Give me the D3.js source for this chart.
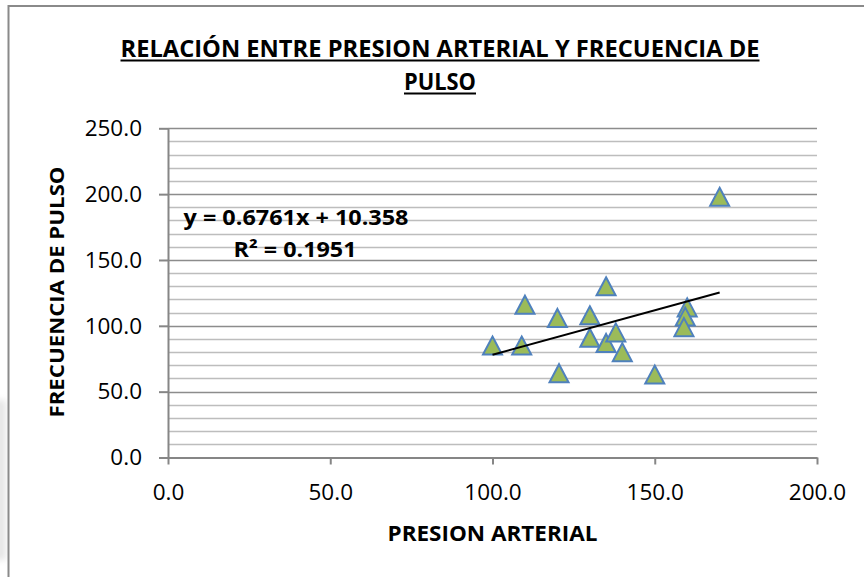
<!DOCTYPE html>
<html>
<head>
<meta charset="utf-8">
<script src="https://cdn.jsdelivr.net/npm/d3@7/dist/d3.min.js"></script>
<style>
  html, body { margin: 0; padding: 0; background: #fff; }
  svg { display: block; }
  text { font-family: "Open Sans", "Noto Sans", sans-serif; fill: #000; }
</style>
</head>
<body>
<svg id="chart" width="864" height="577"></svg>
<script>
// ---- data ----
const presionArterial = [170, 100, 110, 109, 120, 120.5, 130, 130, 135, 135, 138, 140, 150, 160, 159.4, 159];
const frecuenciaPulso = [198, 85, 116, 85, 106, 64, 108, 91, 130, 87, 95, 80, 63, 114, 107, 99];
const trendSlope = 0.6761;
const trendIntercept = 10.358;
const xTicks = [0, 50, 100, 150, 200];
const yTicks = [0, 50, 100, 150, 200, 250];
const yMinorStep = 10;
const titleLines = ["RELACIÓN ENTRE PRESION ARTERIAL Y FRECUENCIA DE", "PULSO"];
const xTitle = "PRESION ARTERIAL";
const yTitle = "FRECUENCIA DE PULSO";
const eqLines = ["y = 0.6761x + 10.358", "R² = 0.1951"];

const svg = d3.select("#chart");

// faint artifact at left edge
const defs = svg.append("defs");
defs.append("filter").attr("id", "blur").append("feGaussianBlur").attr("stdDeviation", 3);
svg.append("rect").attr("x", -6).attr("y", 400).attr("width", 12).attr("height", 160)
  .attr("fill", "#e6e6e6").attr("filter", "url(#blur)");

// chart border (cropped on right & bottom)
svg.append("path").attr("d", "M8.5,600 L8.5,6 L880,6")
  .attr("fill", "none").attr("stroke", "#8a8a8a").attr("stroke-width", 2);

const x = d3.scaleLinear().domain([0, 200]).range([168, 817]);
const y = d3.scaleLinear().domain([0, 250]).range([457.5, 128.3]);

// gridlines
const minor = d3.range(0, 251, yMinorStep).filter(v => v % 50 !== 0);
svg.append("g").selectAll("line").data(minor).join("line")
  .attr("x1", x(0)).attr("x2", x(200))
  .attr("y1", d => Math.round(y(d)) + 0.5).attr("y2", d => Math.round(y(d)) + 0.5)
  .attr("stroke", "#bdbdbd").attr("stroke-width", 1.5);
svg.append("g").selectAll("line").data(yTicks.filter(v => v > 0)).join("line")
  .attr("x1", x(0)).attr("x2", x(200))
  .attr("y1", d => Math.round(y(d)) + 0.5).attr("y2", d => Math.round(y(d)) + 0.5)
  .attr("stroke", "#8c8c8c").attr("stroke-width", 1.5);

// axes
const xAxis = svg.append("g").attr("transform", `translate(0,${y(0)})`)
  .call(d3.axisBottom(x).tickValues(xTicks).tickFormat(d3.format(".1f")).tickSizeInner(7).tickSizeOuter(0).tickPadding(20));
const yAxis = svg.append("g").attr("transform", `translate(${x(0)},0)`)
  .call(d3.axisLeft(y).tickValues(yTicks).tickFormat(d3.format(".1f")).tickSizeInner(9).tickSizeOuter(0).tickPadding(17));
[xAxis, yAxis].forEach(g => {
  g.select(".domain").attr("stroke", "#868686").attr("stroke-width", 2);
  g.selectAll(".tick line").attr("stroke", "#868686").attr("stroke-width", 2);
  g.selectAll(".tick text").attr("font-family", "'Open Sans', sans-serif").attr("font-size", 22.5).attr("fill", "#000");
});
xAxis.selectAll(".tick text").attr("dy", "0.68em");

// markers (triangles)
const pts = presionArterial.map((v, i) => [v, frecuenciaPulso[i]]);
const tw = 9.5, th = 9;
svg.append("g").selectAll("path").data(pts).join("path")
  .attr("d", d => {
    const cx = x(d[0]), cy = y(d[1]);
    return `M${cx},${cy - th} L${cx + tw},${cy + th} L${cx - tw},${cy + th} Z`;
  })
  .attr("fill", "#9bbb59").attr("stroke", "#4f81bd").attr("stroke-width", 2).attr("stroke-linejoin", "miter");

// trendline (drawn on top)
const tx = d3.extent(presionArterial);
svg.append("line")
  .attr("x1", x(tx[0])).attr("y1", y(trendSlope * tx[0] + trendIntercept))
  .attr("x2", x(tx[1])).attr("y2", y(trendSlope * tx[1] + trendIntercept))
  .attr("stroke", "#000").attr("stroke-width", 2);

// equation labels
svg.append("text").attr("x", 296).attr("y", 225).attr("text-anchor", "middle")
  .attr("font-weight", "bold").attr("font-size", 21)
  .attr("textLength", 225).attr("lengthAdjust", "spacingAndGlyphs").text(eqLines[0]);
svg.append("text").attr("x", 295).attr("y", 256.5).attr("text-anchor", "middle")
  .attr("font-weight", "bold").attr("font-size", 21)
  .attr("textLength", 123).attr("lengthAdjust", "spacingAndGlyphs").text(eqLines[1]);

// title
const tl = [{t: titleLines[0], y: 57, w: 639}, {t: titleLines[1], y: 90, w: 72}];
tl.forEach(o => {
  svg.append("text").attr("x", 440).attr("y", o.y).attr("text-anchor", "middle")
    .attr("font-weight", "bold").attr("font-size", 23.5)
    .attr("textLength", o.w).attr("lengthAdjust", "spacingAndGlyphs").text(o.t);
  svg.append("line").attr("x1", 440 - o.w / 2).attr("x2", 440 + o.w / 2)
    .attr("y1", o.y + 3.5).attr("y2", o.y + 3.5).attr("stroke", "#000").attr("stroke-width", 2);
});

// axis titles
svg.append("text").attr("x", 492.5).attr("y", 541).attr("text-anchor", "middle")
  .attr("font-weight", "bold").attr("font-size", 22)
  .attr("textLength", 210).attr("lengthAdjust", "spacingAndGlyphs").text(xTitle);
svg.append("text").attr("transform", "translate(64,292) rotate(-90)").attr("text-anchor", "middle")
  .attr("font-weight", "bold").attr("font-size", 20)
  .attr("textLength", 251).attr("lengthAdjust", "spacingAndGlyphs").text(yTitle);
</script>
</body>
</html>
